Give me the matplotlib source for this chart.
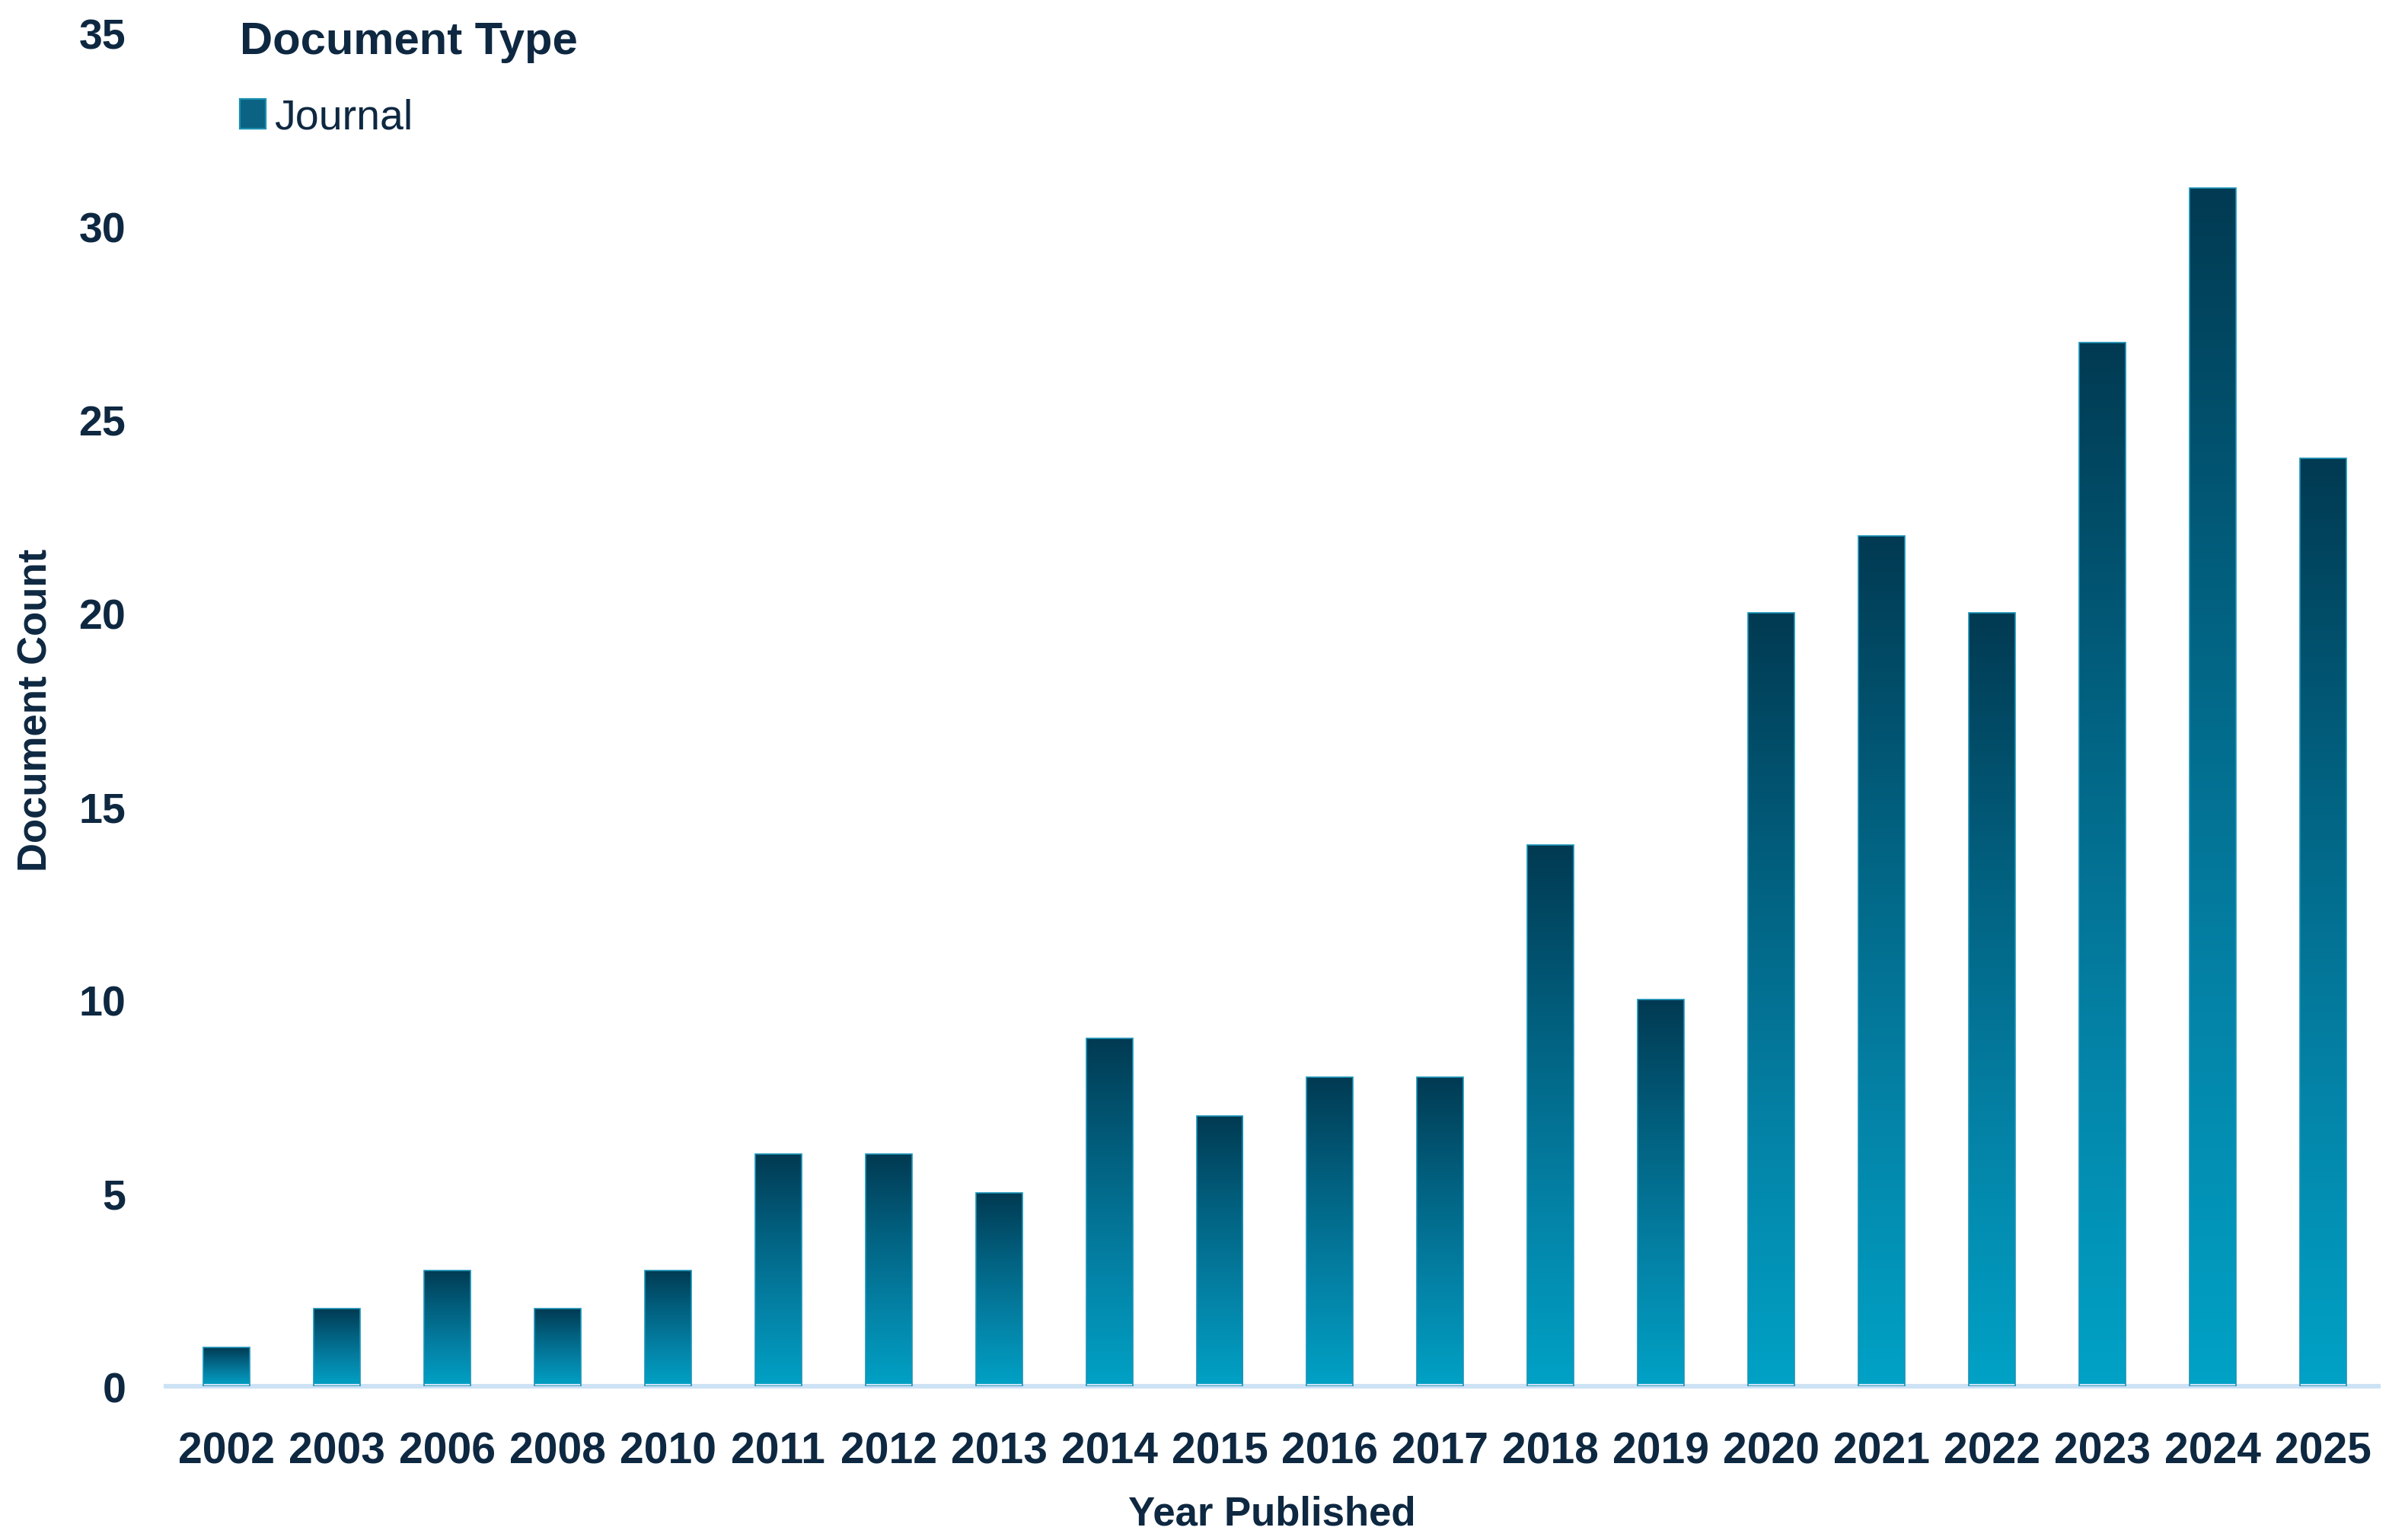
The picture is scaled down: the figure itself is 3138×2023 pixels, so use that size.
import numpy as np
import matplotlib.pyplot as plt
from matplotlib.colors import LinearSegmentedColormap
from matplotlib.patches import Patch

# Data
years = ["2002", "2003", "2006", "2008", "2010", "2011", "2012", "2013", "2014", "2015",
         "2016", "2017", "2018", "2019", "2020", "2021", "2022", "2023", "2024", "2025"]
counts = [1, 2, 3, 2, 3, 6, 6, 5, 9, 7, 8, 8, 14, 10, 20, 22, 20, 27, 31, 24]
y_ticks = [0, 5, 10, 15, 20, 25, 30, 35]

text_color = "#0e2841"
plt.rcParams["font.family"] = ["Liberation Sans", "DejaVu Sans"]

fig = plt.figure(figsize=(15.69, 10.12), dpi=200)
ax = fig.add_axes([0.0695, 0.0998, 0.9259, 0.8782])

# Gradient from light (bottom) to dark (top) of each bar
grad_cmap = LinearSegmentedColormap.from_list(
    "bar_grad", ["#00a2c6", "#0482a6", "#02607f", "#013a52"])
gradient = np.linspace(0, 1, 256).reshape(-1, 1)

x = np.arange(len(years))
bars = ax.bar(x, counts, width=0.42, facecolor="none", edgecolor="none", zorder=2)
for bar in bars:
    x0, y0 = bar.get_x(), bar.get_y()
    w, h = bar.get_width(), bar.get_height()
    im = ax.imshow(gradient, cmap=grad_cmap, origin="lower", aspect="auto",
                   extent=[x0, x0 + w, y0, y0 + h], zorder=2, interpolation="bilinear")
    im.set_clip_path(bar)
    # thin light rim like the reference bars
    ax.add_patch(plt.Rectangle((x0, y0), w, h, facecolor="none",
                               edgecolor="#1a93b8", linewidth=0.6, zorder=3))

ax.set_xlim(-0.55, len(years) - 0.5)
ax.set_ylim(0, 35)
ax.set_xticks(x)
ax.set_xticklabels(years)
ax.set_yticks(y_ticks)

for side in ["top", "right", "left"]:
    ax.spines[side].set_visible(False)
ax.spines["bottom"].set_color("#cde2f4")
ax.spines["bottom"].set_linewidth(2.2)

ax.tick_params(axis="both", length=0, labelcolor=text_color)
ax.tick_params(axis="x", pad=21, labelsize=20.5)
ax.tick_params(axis="y", pad=19, labelsize=20)
for lbl in ax.get_xticklabels() + ax.get_yticklabels():
    lbl.set_fontweight("bold")

ax.set_ylabel("Document Count", fontsize=19, fontweight="bold", color=text_color)
ax.yaxis.set_label_coords(-0.050, 0.5)
ax.set_xlabel("Year Published", fontsize=19, fontweight="bold", color=text_color)
ax.xaxis.set_label_coords(0.5, -0.080)

handle = Patch(facecolor="#0b6283", edgecolor="#1a8fb0", linewidth=0.8)
leg = fig.legend([handle], ["Journal"], loc="upper left", bbox_to_anchor=(0.0915, 1.0),
                 frameon=False, fontsize=20, title="Document Type",
                 title_fontproperties={"weight": "bold", "size": 21.5},
                 alignment="left", handlelength=0.62, handleheight=0.68,
                 handletextpad=0.2, borderpad=0, labelspacing=0.85)
leg.get_title().set_color(text_color)
for t in leg.get_texts():
    t.set_color(text_color)

fig.savefig("out.png", dpi=200, facecolor="white")
